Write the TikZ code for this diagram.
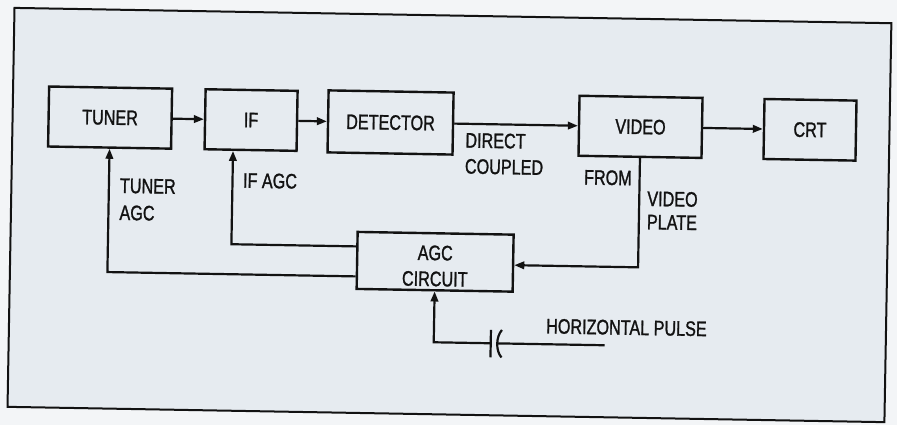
\documentclass[tikz,border=0pt]{standalone}
\usepackage{fontspec}
\setmainfont{Liberation Sans}[FakeStretch=0.77,FakeBold=1.2]
\usetikzlibrary{arrows.meta,calc}
\definecolor{paper}{HTML}{F3F5F7}
\definecolor{panel}{HTML}{E6EBF0}
\definecolor{ink}{HTML}{121212}
\newcommand\diaglbl{\fontsize{21}{26}\selectfont}
\begin{document}
\begin{tikzpicture}[x=1pt,y=-1pt,
  box/.style={draw=ink, line width=2.4pt, inner sep=0pt, align=center, text=ink, font=\diaglbl},
  lab/.style={inner sep=0pt, align=left, anchor=north west, text=ink, font=\diaglbl},
  arr/.style={draw=ink, line width=2.2pt, -{Triangle[length=10pt,width=7.5pt]}},
  wire/.style={draw=ink, line width=2.2pt}]
\useasboundingbox[fill=paper] (0,0) rectangle (897,425);
\begin{scope}[rotate around={-1:(448,212)}, transform shape]
  \draw[ink, line width=2pt, fill=panel] (11,15.5) rectangle (888,414.5);
  % blocks
  \node[box, minimum width=123pt, minimum height=60pt] (tuner) at (108.5,123.5) {TUNER};
  \node[box, minimum width=92pt, minimum height=60pt] (if) at (249.5,123.5) {IF};
  \node[box, minimum width=125pt, minimum height=62pt] (det) at (389,123.5) {DETECTOR};
  \node[box, minimum width=123pt, minimum height=60pt] (video) at (639,123.5) {VIDEO};
  \node[box, minimum width=92pt, minimum height=60pt] (crt) at (808.5,123.5) {CRT};
  \node[box, minimum width=156pt, minimum height=57pt] (agc) at (436,262) {\rule{0pt}{23pt}AGC\\CIRCUIT};
  % forward path
  \draw[arr] (tuner.east) -- (if.west);
  \draw[arr] (if.east) -- (det.west);
  \draw[arr] (det.east) -- (video.west);
  \draw[arr] (video.east) -- (crt.west);
  % AGC feedback
  \coordinate (ifin) at ([xshift=-17.5pt]if.south);
  \draw[arr] ([yshift=14pt]agc.west) -| (ifin);
  \draw[arr] ([yshift=-16pt]agc.west) -| (tuner.south);
  \draw[arr] (video.south) |- ([yshift=-2pt]agc.east);
  % horizontal pulse through capacitor
  \coordinate (capL) at (493,342.5);
  \coordinate (capR) at (499.6,342.5);
  \coordinate (capLt) at (493,329);
  \coordinate (capLb) at (493,356.5);
  \coordinate (capRt) at (504,329);
  \coordinate (capRb) at (504,356.5);
  \coordinate (hpend) at (607,342.5);
  \draw[arr] (capL) -| (agc.south);
  \draw[wire] (capLt) -- (capLb);
  \draw[wire] (capRt) .. controls (498,336) and (498,350) .. (capRb);
  \draw[wire] (capR) -- (hpend);
  % labels
  \node[lab] (tunerlbl) at (119.4,184) {TUNER\\[1pt]AGC};
  \node[lab] (iflbl) at (242.4,176.4) {IF AGC};
  \node[lab] (dclbl) at (464,132.4) {DIRECT\\COUPLED};
  \node[lab] (fromlbl) at (583.3,167.3) {FROM};
  \node[lab] (vplbl) at (646.9,187.6) {VIDEO\\[-2.7pt]PLATE};
  \node[lab] (hplbl) at (548,316.8) {HORIZONTAL PULSE};
\end{scope}
\end{tikzpicture}
\end{document}
